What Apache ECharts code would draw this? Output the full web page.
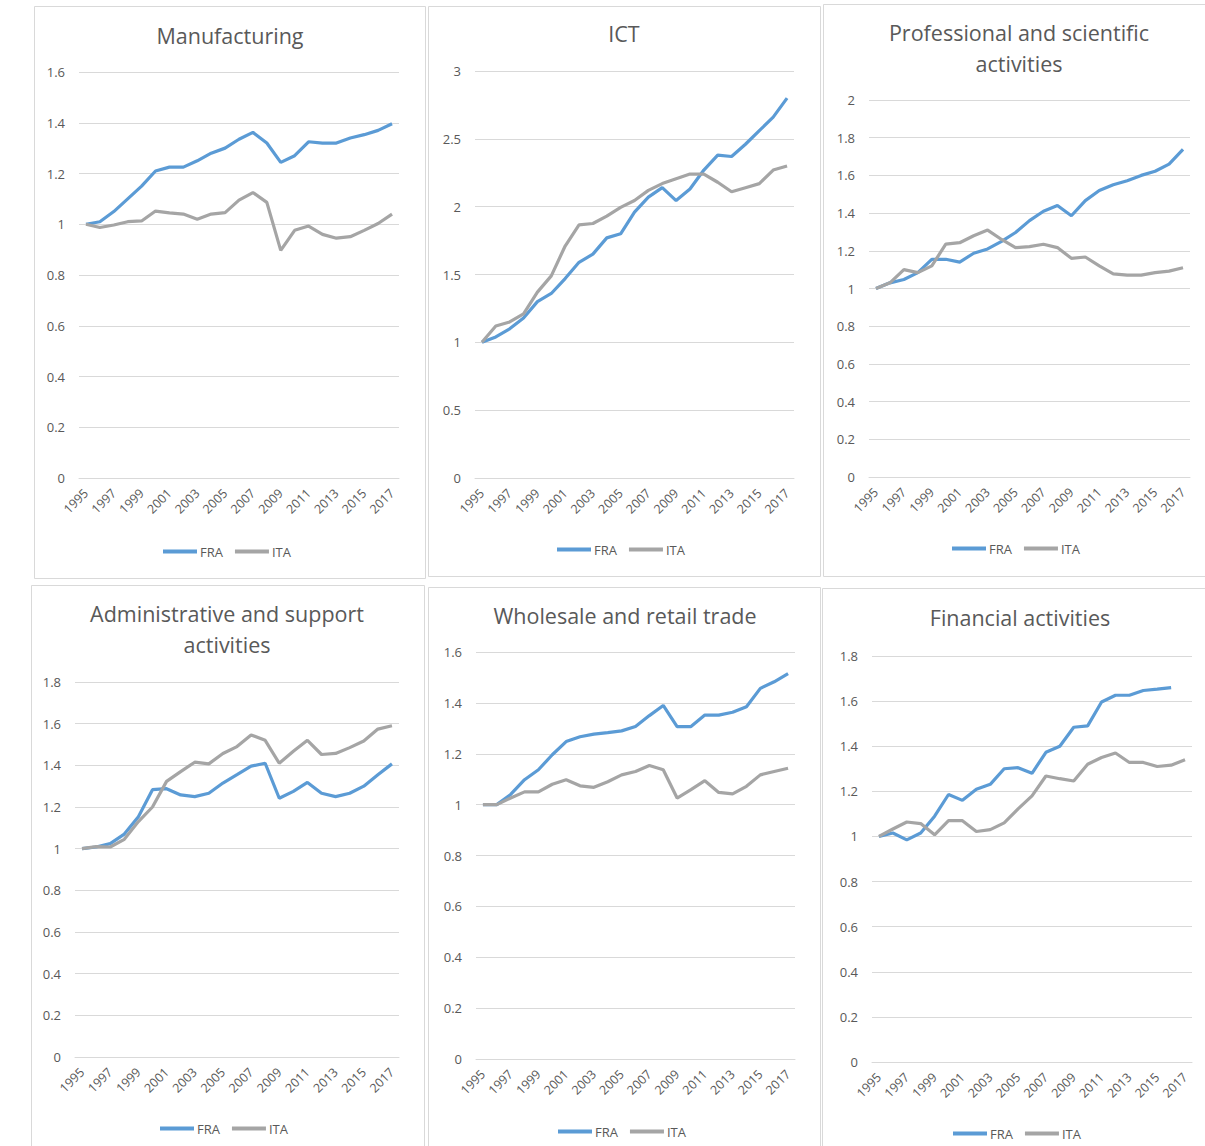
<!DOCTYPE html>
<html>
<head>
<meta charset="utf-8">
<script src="https://cdn.jsdelivr.net/npm/echarts@6/dist/echarts.min.js"></script>
<style>
html,body{margin:0;padding:0;background:#fff;}
#chart{width:1205px;height:1146px;}
</style>
</head>
<body>
<div id="chart"></div>
<script>
const years = ['1995','1996','1997','1998','1999','2000','2001','2002','2003','2004','2005','2006','2007','2008','2009','2010','2011','2012','2013','2014','2015','2016','2017'];
const seriesNames = ['FRA','ITA'];
const panelTitles = ['Manufacturing','ICT','Professional and scientific\nactivities','Administrative and support\nactivities','Wholesale and retail trade','Financial activities'];
const yMax = [1.6, 3, 2, 1.8, 1.6, 1.8];
const yStep = [0.2, 0.5, 0.2, 0.2, 0.2, 0.2];

const manufFRA = [1.00,1.01,1.05,1.10,1.15,1.21,1.225,1.225,1.25,1.28,1.30,1.335,1.362,1.32,1.244,1.27,1.325,1.32,1.32,1.34,1.353,1.37,1.396];
const manufITA = [1.00,0.987,0.997,1.01,1.013,1.052,1.045,1.04,1.02,1.04,1.046,1.095,1.125,1.086,0.897,0.976,0.993,0.96,0.945,0.951,0.976,1.003,1.04];

const ictFRA = [1.00,1.04,1.10,1.18,1.30,1.36,1.47,1.59,1.65,1.77,1.80,1.96,2.07,2.14,2.045,2.13,2.27,2.38,2.37,2.46,2.56,2.66,2.80];
const ictITA = [1.00,1.12,1.15,1.21,1.37,1.49,1.71,1.866,1.876,1.93,1.995,2.045,2.12,2.17,2.205,2.24,2.24,2.18,2.11,2.14,2.17,2.27,2.30];

const profFRA = [1.00,1.03,1.048,1.084,1.155,1.155,1.14,1.187,1.21,1.25,1.297,1.36,1.41,1.44,1.386,1.466,1.52,1.55,1.572,1.60,1.622,1.66,1.738];
const profITA = [1.00,1.03,1.10,1.084,1.12,1.235,1.243,1.28,1.31,1.26,1.217,1.222,1.235,1.217,1.16,1.167,1.12,1.078,1.071,1.071,1.084,1.092,1.11];

const adminFRA = [1.00,1.008,1.024,1.07,1.153,1.283,1.288,1.258,1.25,1.266,1.315,1.355,1.396,1.41,1.242,1.275,1.318,1.266,1.25,1.266,1.30,1.355,1.407];
const adminITA = [1.00,1.01,1.008,1.045,1.13,1.20,1.323,1.37,1.415,1.407,1.457,1.49,1.546,1.52,1.41,1.468,1.52,1.452,1.457,1.485,1.517,1.574,1.59];

const tradeFRA = [1.00,1.00,1.04,1.098,1.137,1.196,1.248,1.267,1.277,1.283,1.29,1.307,1.35,1.39,1.307,1.307,1.352,1.352,1.363,1.385,1.457,1.483,1.515];
const tradeITA = [1.00,1.00,1.026,1.05,1.05,1.08,1.098,1.074,1.068,1.09,1.117,1.13,1.154,1.137,1.026,1.059,1.094,1.048,1.042,1.072,1.117,1.13,1.143];

const finFRA = [1.00,1.015,0.985,1.015,1.09,1.186,1.16,1.209,1.231,1.30,1.305,1.28,1.373,1.40,1.484,1.49,1.596,1.626,1.626,1.647,1.653,1.66,null];
const finITA = [1.00,1.033,1.064,1.057,1.007,1.07,1.07,1.022,1.03,1.06,1.122,1.18,1.268,1.256,1.246,1.32,1.35,1.37,1.328,1.328,1.31,1.316,1.34];

const panelData = [
  [manufFRA, manufITA],
  [ictFRA, ictITA],
  [profFRA, profITA],
  [adminFRA, adminITA],
  [tradeFRA, tradeITA],
  [finFRA, finITA]
];

// layout (pixels)
const boxes = [
  {x:34, y:6, w:391, h:572},
  {x:428, y:6, w:392, h:570},
  {x:823, y:4, w:390, h:572},
  {x:31, y:585, w:393, h:570},
  {x:428, y:587, w:392, h:570},
  {x:822, y:588, w:390, h:570}
];
const grids = [
  {left:79, top:72, width:320, height:406},
  {left:475, top:71, width:319, height:407},
  {left:869, top:100, width:321, height:377},
  {left:75, top:682, width:324, height:375},
  {left:476, top:652, width:319, height:407},
  {left:872, top:656, width:320, height:406}
];
const titlePos = [
  {cx:230, top:20},
  {cx:624, top:18},
  {cx:1019, top:16.5},
  {cx:227, top:597.5},
  {cx:625, top:600},
  {cx:1020, top:602}
];
const legendPos = [
  {left:163, cy:553},
  {left:557, cy:551},
  {left:952, cy:550},
  {left:160, cy:1130},
  {left:558, cy:1133},
  {left:953, cy:1135}
];

const colors = ['#5B9BD5', '#A5A5A5'];
const textColor = '#595959';
const gridColor = '#D9D9D9';
const fontFamily = '"Open Sans", "Noto Sans", sans-serif';

const option = {
  animation: false,
  backgroundColor: '#ffffff',
  color: colors,
  title: [], grid: [], xAxis: [], yAxis: [], legend: [], series: [],
  graphic: []
};

for (let i = 0; i < 6; i++) {
  const b = boxes[i];
  option.graphic.push({
    type: 'rect', silent: true, z: -10,
    shape: {x: b.x + 0.5, y: b.y + 0.5, width: b.w, height: b.h},
    style: {fill: '#ffffff', stroke: gridColor, lineWidth: 1}
  });
  option.title.push({
    text: panelTitles[i],
    left: titlePos[i].cx, top: titlePos[i].top,
    textAlign: 'center', padding: 0,
    textStyle: {fontFamily: fontFamily, fontSize: 21.5, fontWeight: 'normal', color: textColor, lineHeight: 31}
  });
  option.grid.push(Object.assign({containLabel: false}, grids[i]));
  option.xAxis.push({
    type: 'category', gridIndex: i, data: years, boundaryGap: true,
    axisLine: {show: true, lineStyle: {color: gridColor, width: 1}},
    axisTick: {show: false},
    axisLabel: {interval: 1, rotate: 45, margin: 13, fontSize: 12.5, color: textColor, fontFamily: fontFamily}
  });
  option.yAxis.push({
    type: 'value', gridIndex: i, min: 0, max: yMax[i], interval: yStep[i],
    axisLine: {show: false}, axisTick: {show: false},
    splitLine: {show: true, lineStyle: {color: gridColor, width: 1}},
    axisLabel: {margin: 14, fontSize: 13, color: textColor, fontFamily: fontFamily}
  });
  option.legend.push({
    data: seriesNames,
    left: legendPos[i].left, top: legendPos[i].cy - 8,
    orient: 'horizontal', padding: 0,
    icon: 'rect', itemWidth: 34, itemHeight: 4, itemGap: 12,
    textStyle: {fontSize: 13, color: textColor, fontFamily: fontFamily, padding: [0,0,0,-2]},
    selectedMode: false
  });
  for (let s = 0; s < 2; s++) {
    option.series.push({
      name: seriesNames[s], type: 'line',
      xAxisIndex: i, yAxisIndex: i,
      data: panelData[i][s],
      showSymbol: false, symbol: 'none',
      lineStyle: {width: 3.2, color: colors[s]},
      itemStyle: {color: colors[s]},
      connectNulls: false
    });
  }
}

const chart = echarts.init(document.getElementById('chart'), null, {renderer: 'svg', width: 1205, height: 1146});
chart.setOption(option);
</script>
</body>
</html>
